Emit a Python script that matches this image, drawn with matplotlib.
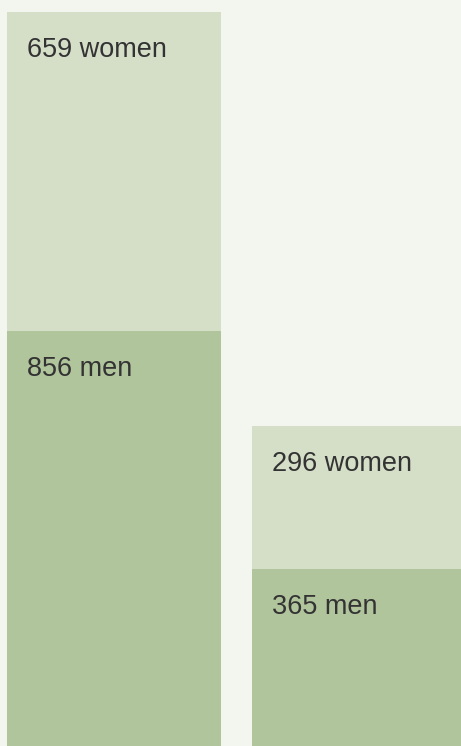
import matplotlib
matplotlib.use("Agg")
import matplotlib.pyplot as plt

# data
groups = ["A", "B"]
men = [856, 365]
women = [659, 296]

BG = "#f3f5ef"
C_MEN = "#b1c59c"
C_WOMEN = "#d5dfc8"
TXT = "#333333"

fig = plt.figure(figsize=(4.61, 7.46), dpi=100)
fig.patch.set_facecolor(BG)
ax = fig.add_axes([0, 0, 1, 1])
ax.set_facecolor(BG)

x = list(range(len(groups)))
width = 0.873
ax.bar(x, men, width=width, color=C_MEN, linewidth=0)
ax.bar(x, women, width=width, bottom=men, color=C_WOMEN, linewidth=0)

# labels sit inside the top-left corner of each segment
for i in x:
    left = i - width / 2
    ax.annotate(f"{women[i]} women", xy=(left, men[i] + women[i]),
                xytext=(20, -45), textcoords="offset pixels",
                fontsize=19.5, color=TXT, family="Liberation Sans",
                va="baseline", ha="left")
    ax.annotate(f"{men[i]} men", xy=(left, men[i]),
                xytext=(20, -45), textcoords="offset pixels",
                fontsize=19.5, color=TXT, family="Liberation Sans",
                va="baseline", ha="left")

ax.set_xlim(-0.4653, 1.416)
ax.set_ylim(0, 1540.4)
ax.axis("off")

fig.savefig("out.png", dpi=100, facecolor=BG)
